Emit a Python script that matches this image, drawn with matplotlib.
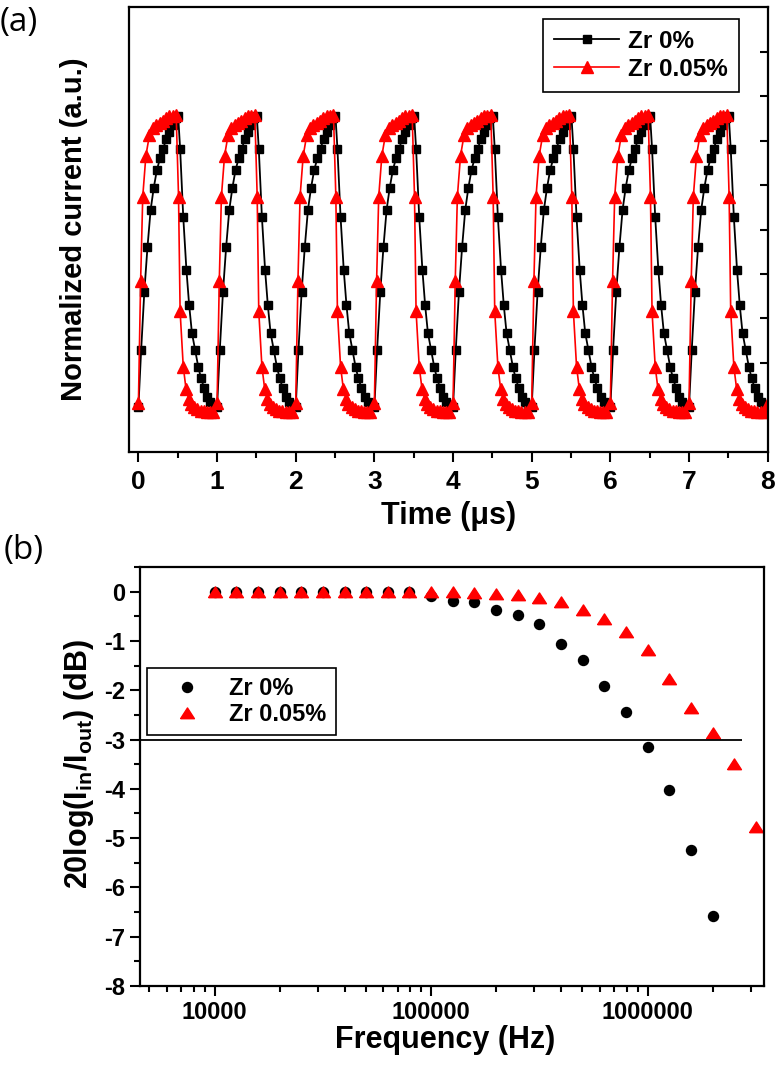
import numpy as np
import matplotlib.pyplot as plt
from matplotlib.ticker import MultipleLocator, FixedLocator, NullFormatter, LogLocator

plt.rcParams['font.family'] = ['Liberation Sans', 'DejaVu Sans']
plt.rcParams['font.weight'] = 'bold'
plt.rcParams['axes.labelweight'] = 'bold'
plt.rcParams['axes.unicode_minus'] = False
plt.rcParams['mathtext.fontset'] = 'custom'
plt.rcParams['mathtext.rm'] = 'Liberation Sans:bold'
plt.rcParams['mathtext.bf'] = 'Liberation Sans:bold'
plt.rcParams['mathtext.default'] = 'bf'

# --- (a) one period of the pulse response (t in us, a.u.) ---
t_zr0 = [0.00, 0.035, 0.075, 0.115, 0.155, 0.195, 0.235, 0.275, 0.315, 0.355,
         0.395, 0.435, 0.475, 0.505, 0.53, 0.57, 0.61, 0.645, 0.68, 0.72,
         0.76, 0.795, 0.835, 0.875, 0.915, 0.955]
v_zr0 = [0.51, 1.15, 1.80, 2.30, 2.72, 2.97, 3.17, 3.30, 3.41, 3.52,
         3.60, 3.67, 3.75, 3.78, 3.41, 2.64, 2.05, 1.65, 1.34, 1.15,
         0.96, 0.83, 0.72, 0.62, 0.565, 0.53]
t_zr005 = [0.00, 0.028, 0.055, 0.095, 0.14, 0.18, 0.225, 0.27, 0.31, 0.35,
           0.395, 0.437, 0.48, 0.51, 0.53, 0.57, 0.605, 0.64, 0.67, 0.71,
           0.75, 0.79, 0.83, 0.87, 0.91, 0.95]
v_zr005 = [0.55, 1.92, 2.87, 3.33, 3.56, 3.64, 3.67, 3.70, 3.72, 3.75,
           3.77, 3.78, 3.79, 2.87, 1.58, 0.96, 0.71, 0.60, 0.54, 0.50,
           0.48, 0.46, 0.455, 0.45, 0.45, 0.45]
n_periodos = 8

# --- (b) frequency response (Hz, dB) ---
freq = [10000, 12600, 15800, 20000, 25100, 31600, 39800, 50100, 63100, 79400,
        100000, 126000, 158000, 200000, 251000, 316000, 398000, 501000, 631000, 794000,
        1000000, 1260000, 1580000, 2000000, 2510000, 3160000]
db_zr0 = [0, 0, 0, 0, 0, 0, 0, 0, 0, 0,
          -0.08, -0.18, -0.22, -0.37, -0.48, -0.66, -1.06, -1.39, -1.91, -2.45,
          -3.16, -4.03, -5.24, -6.58]
db_zr005 = [0, 0, 0, 0, 0, 0, 0, 0, 0, 0,
            0, 0, -0.03, -0.05, -0.06, -0.13, -0.22, -0.37, -0.56, -0.81,
            -1.18, -1.78, -2.36, -2.86, -3.49, -4.77]

tb = np.concatenate([np.array(t_zr0) + k for k in range(n_periodos)] + [[8.0]])
vb = np.concatenate([v_zr0] * n_periodos + [[v_zr0[0]]])
tr = np.concatenate([np.array(t_zr005) + k for k in range(n_periodos)] + [[8.0]])
vr = np.concatenate([v_zr005] * n_periodos + [[v_zr005[0]]])

fig = plt.figure(figsize=(7.77, 10.65), dpi=100)
ax1 = fig.add_axes([0.166, 0.5756, 0.822, 0.4178])
ax2 = fig.add_axes([0.180, 0.0742, 0.803, 0.3934])

# ---------- (a) ----------
ax1.plot(tb, vb, '-s', color='black', ms=5.8, lw=1.3, label='Zr 0%')
ax1.plot(tr, vr, '-^', color='red', ms=8, lw=1.2, label='Zr 0.05%')
ax1.set_xlim(-0.12, 8.0)
ax1.set_ylim(0, 5)
ax1.xaxis.set_major_locator(MultipleLocator(1))
ax1.xaxis.set_minor_locator(MultipleLocator(0.5))
ax1.yaxis.set_major_locator(FixedLocator([1, 2, 3, 4]))
ax1.yaxis.set_minor_locator(FixedLocator([0.5, 1.5, 2.5, 3.5, 4.5]))
ax1.tick_params(axis='y', which='both', left=False, right=True, labelleft=False,
                direction='in', length=6, width=1.5)
ax1.tick_params(axis='x', which='major', direction='out', length=7, width=1.5,
                labelsize=19, pad=6)
ax1.tick_params(axis='x', which='minor', direction='out', length=4, width=1.5)
for s in ax1.spines.values():
    s.set_linewidth(1.6)
ax1.set_xlabel('Time (μs)', fontsize=22)
ax1.set_ylabel('Normalized current (a.u.)', fontsize=21)
ax1.xaxis.set_label_coords(0.5, -0.110)
ax1.yaxis.set_label_coords(-0.064, 0.5)
leg1 = ax1.legend(loc='upper right', bbox_to_anchor=(0.9546, 0.973), borderaxespad=0,
                  fancybox=False, edgecolor='black', framealpha=1, fontsize=17.5,
                  handlelength=2.7, handletextpad=0.35, labelspacing=0.2, borderpad=0.45)
leg1.get_frame().set_linewidth(1.2)

# ---------- (b) ----------
tri = [(-1, -0.75), (1, -0.75), (0, 0.8), (-1, -0.75)]
ax2.set_xscale('log')
ax2.plot(freq[:len(db_zr0)], db_zr0, 'o', color='black', ms=7.2, ls='none', label='Zr 0%')
ax2.plot(freq, db_zr005, marker=tri, color='red', ms=10, ls='none', label='Zr 0.05%')
ax2.hlines(-3, 4514, 2.73e6, color='black', lw=1.3)
ax2.set_xlim(4514, 3.44e6)
ax2.set_ylim(-8, 0.5)
ax2.xaxis.set_major_locator(FixedLocator([1e4, 1e5, 1e6]))
ax2.set_xticklabels(['10000', '100000', '1000000'])
ax2.xaxis.set_minor_locator(LogLocator(base=10, subs=np.arange(2, 10)))
ax2.xaxis.set_minor_formatter(NullFormatter())
ax2.yaxis.set_major_locator(MultipleLocator(1))
ax2.yaxis.set_minor_locator(MultipleLocator(0.5))
ax2.tick_params(which='both', direction='out', top=False, right=False, width=1.5)
ax2.tick_params(which='major', length=7, labelsize=17)
ax2.tick_params(which='minor', length=4)
for s in ax2.spines.values():
    s.set_linewidth(1.6)
ax2.set_xlabel('Frequency (Hz)', fontsize=22)
ax2.set_ylabel(r'20log(I$_{in}$/I$_{out}$) (dB)', fontsize=22)
ax2.xaxis.set_label_coords(0.49, -0.093)
ax2.yaxis.set_label_coords(-0.070, 0.53)
leg2 = ax2.legend(loc='upper left', bbox_to_anchor=(0.011, 0.759), borderaxespad=0,
                  fancybox=False, edgecolor='black', framealpha=1, fontsize=17,
                  handlelength=2.6, handletextpad=0.5, labelspacing=0.1, borderpad=0.4)
leg2.get_frame().set_linewidth(1.2)

fig.text(0.0, 1 - 22 / 1065, '(a)', fontsize=24, fontweight='normal',
         family=['Open Sans', 'DejaVu Sans'], va='center', ha='left')
fig.text(0.005, 1 - 551 / 1065, '(b)', fontsize=24, fontweight='normal',
         family=['Open Sans', 'DejaVu Sans'], va='center', ha='left')

fig.savefig('out.png', dpi=100)
